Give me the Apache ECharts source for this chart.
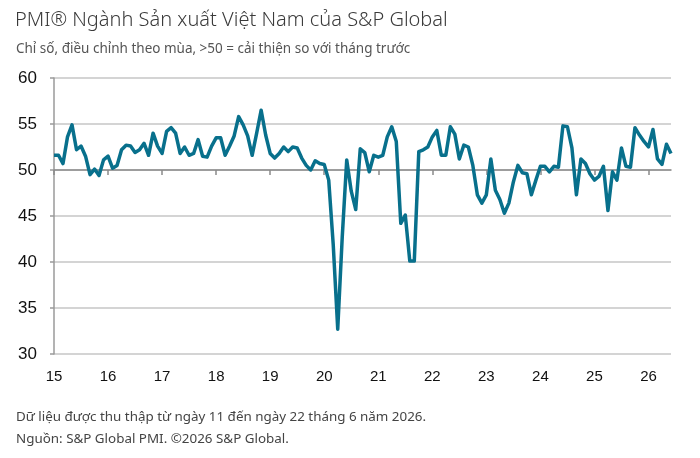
<!DOCTYPE html>
<html>
<head>
<meta charset="utf-8">
<title>PMI Việt Nam</title>
<script src="https://cdn.jsdelivr.net/npm/echarts@6/dist/echarts.min.js"></script>
<style>
  html, body { margin: 0; padding: 0; background: #fff; }
  #chart { width: 700px; height: 458px; }
</style>
</head>
<body>
<div id="chart"></div>
<script>
// years shown on the x axis (2015 .. 2026), one tick each January
const yearLabels = ['15', '16', '17', '18', '19', '20', '21', '22', '23', '24', '25', '26'];

// monthly PMI, Jan 2015 .. Jun 2026
const pmi2015 = [51.6, 51.6, 50.7, 53.6, 54.9, 52.2, 52.6, 51.5, 49.5, 50.1, 49.4, 51.1];
const pmi2016 = [51.5, 50.2, 50.5, 52.2, 52.7, 52.6, 51.9, 52.2, 52.9, 51.6, 54.0, 52.6];
const pmi2017 = [51.8, 54.2, 54.6, 54.0, 51.8, 52.5, 51.6, 51.8, 53.3, 51.5, 51.4, 52.6];
const pmi2018 = [53.5, 53.5, 51.6, 52.6, 53.7, 55.8, 54.9, 53.7, 51.6, 54.0, 56.5, 53.8];
const pmi2019 = [51.8, 51.3, 51.8, 52.5, 52.0, 52.5, 52.4, 51.3, 50.5, 50.0, 51.0, 50.7];
const pmi2020 = [50.6, 48.9, 41.9, 32.7, 42.7, 51.1, 47.7, 45.7, 52.3, 51.9, 49.8, 51.6];
const pmi2021 = [51.4, 51.6, 53.6, 54.7, 53.1, 44.2, 45.1, 40.1, 40.1, 52.0, 52.2, 52.5];
const pmi2022 = [53.6, 54.3, 51.6, 51.6, 54.7, 53.9, 51.2, 52.7, 52.5, 50.5, 47.3, 46.4];
const pmi2023 = [47.3, 51.2, 47.8, 46.8, 45.3, 46.4, 48.7, 50.5, 49.7, 49.6, 47.3, 48.9];
const pmi2024 = [50.4, 50.4, 49.8, 50.4, 50.3, 54.8, 54.7, 52.4, 47.3, 51.2, 50.7, 49.6];
const pmi2025 = [48.9, 49.3, 50.4, 45.6, 49.8, 48.9, 52.4, 50.4, 50.3, 54.6, 53.8, 53.1];
const pmi2026 = [52.5, 54.4, 51.2, 50.6, 52.8, 51.8];

const yTicks = [30, 35, 40, 45, 50, 55, 60];

const pmiValues = [].concat(pmi2015, pmi2016, pmi2017, pmi2018, pmi2019, pmi2020,
  pmi2021, pmi2022, pmi2023, pmi2024, pmi2025, pmi2026);

// one category per month, label only on January
const months = pmiValues.map((v, i) => {
  const y = Math.floor(i / 12);
  return i % 12 === 0 ? yearLabels[y] : yearLabels[y] + '-' + (i % 12 + 1);
});

const isJan = (idx) => idx % 12 === 0;

const textFont = "'Noto Sans', 'Liberation Sans', sans-serif";
const axisFont = "'Liberation Sans', Arial, sans-serif";

const getOption = () => {
  return {
    animation: false,
    title: [
      {
        text: 'PMI® Ngành Sản xuất Việt Nam của S&P Global',
        left: 10, top: 5,
        textStyle: { fontFamily: textFont, fontSize: 20, fontWeight: 300, color: '#3a3a3a' }
      },
      {
        text: 'Chỉ số, điều chỉnh theo mùa, >50 = cải thiện so với tháng trước',
        left: 11, top: 37,
        textStyle: { fontFamily: textFont, fontSize: 13.5, fontWeight: 'normal', color: '#555' }
      },
      {
        text: 'Dữ liệu được thu thập từ ngày 11 đến ngày 22 tháng 6 năm 2026.',
        left: 11, top: 406,
        textStyle: { fontFamily: textFont, fontSize: 13.4, fontWeight: 'normal', color: '#444' }
      },
      {
        text: 'Nguồn: S&P Global PMI. ©2026 S&P Global.',
        left: 11, top: 428,
        textStyle: { fontFamily: textFont, fontSize: 13.4, fontWeight: 'normal', color: '#444' }
      }
    ],
    grid: [
      { left: 54, right: 29, top: 78, height: 276 },
      // upper half only, so its bottom axis line sits on 50
      { left: 54, right: 29, top: 78, height: 92 }
    ],
    xAxis: [
      {
        gridIndex: 0,
        type: 'category',
        data: months,
        boundaryGap: false,
        axisLine: { show: false },
        axisTick: { show: false },
        axisLabel: {
          interval: (idx) => isJan(idx),
          formatter: (v) => v.length <= 2 ? v : '',
          fontFamily: axisFont, fontSize: 15, color: '#111', margin: 15
        },
        splitLine: { show: false }
      },
      {
        gridIndex: 1,
        type: 'category',
        data: months,
        boundaryGap: false,
        axisLine: { show: true, lineStyle: { color: '#8a8a8a', width: 1.5 } },
        axisTick: { show: true, interval: (idx) => isJan(idx), length: 5, lineStyle: { color: '#8a8a8a', width: 1.5 } },
        axisLabel: { show: false },
        splitLine: { show: false }
      }
    ],
    yAxis: [
      {
        gridIndex: 0,
        type: 'value',
        min: 30, max: 60, interval: 5,
        axisLine: { show: true, lineStyle: { color: '#9a9a9a', width: 1.5 } },
        axisTick: { show: true, length: 4, lineStyle: { color: '#9a9a9a', width: 1.5 } },
        axisLabel: {
          fontFamily: axisFont, fontSize: 17, color: '#111', margin: 17,
          formatter: (v) => yTicks.includes(v) ? String(v) : ''
        },
        splitLine: { show: true, lineStyle: { color: '#c6c6c6', width: 1.5 } }
      },
      {
        gridIndex: 1,
        type: 'value',
        min: 50, max: 60,
        show: false
      }
    ],
    series: [
      {
        type: 'line',
        xAxisIndex: 0,
        yAxisIndex: 0,
        data: pmiValues,
        showSymbol: false,
        symbol: 'none',
        lineStyle: { color: '#08708c', width: 3.5, join: 'round' },
        z: 5
      }
    ]
  };
};

const initChart = () => {
  const chart = echarts.init(document.getElementById('chart'), null, { renderer: 'canvas' });
  chart.setOption(getOption());
};

window.addEventListener('load', () => {
  initChart();
});
</script>
</body>
</html>
